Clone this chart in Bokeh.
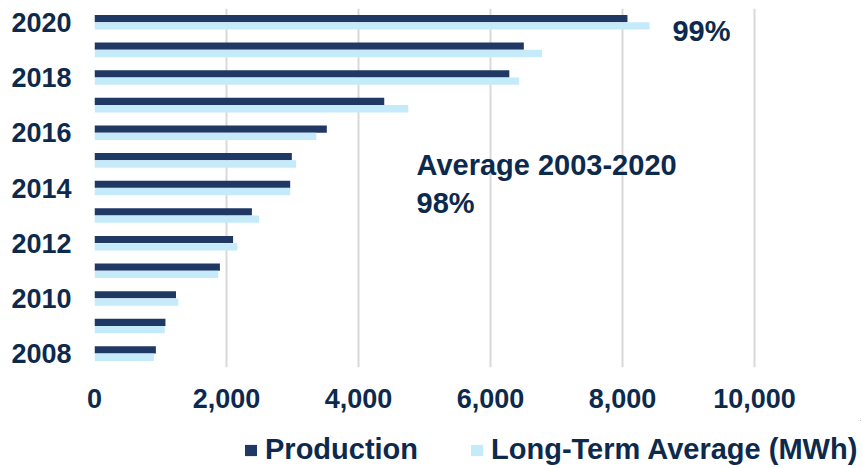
from bokeh.plotting import figure
from bokeh.layouts import column
from bokeh.models import (Range1d, ColumnDataSource, NumeralTickFormatter, FixedTicker,
                          Legend, LegendItem, Label)
from bokeh.embed import file_html
from bokeh.resources import INLINE

years = [2008, 2009, 2010, 2011, 2012, 2013, 2014, 2015, 2016, 2017, 2018, 2019, 2020]
production = [930, 1075, 1235, 1900, 2100, 2385, 2965, 2990, 3520, 4390, 6285, 6505, 8075]
long_term_avg = [900, 1065, 1270, 1875, 2165, 2495, 2965, 3055, 3360, 4755, 6435, 6780, 8410]
x_ticks = [0, 2000, 4000, 6000, 8000, 10000]
y_ticks = [2008, 2010, 2012, 2014, 2016, 2018, 2020]

NAVY = "#203864"
LIGHT = "#C5EBFB"
TEXT = "#0D2A4D"
FONT = "Liberation Sans"

p = figure(width=863, height=420, output_backend="svg", toolbar_location=None,
           x_range=Range1d(0, 11606), y_range=Range1d(2007.5, 2020.5),
           min_border_left=94, min_border_right=3, min_border_top=8, min_border_bottom=53)
p.outline_line_color = None

src = ColumnDataSource(dict(
    y_prod=[y + 0.135 for y in years],
    y_lta=[y - 0.13 for y in years],
    prod=production, lta=long_term_avg))

p.hbar(y="y_prod", right="prod", left=0, height=0.26, source=src,
       fill_color=NAVY, line_color=None)
p.hbar(y="y_lta", right="lta", left=0, height=0.265, source=src,
       fill_color=LIGHT, line_color=None)

# axes
p.xaxis.ticker = FixedTicker(ticks=x_ticks)
p.xaxis.formatter = NumeralTickFormatter(format="0,0")
p.yaxis.ticker = FixedTicker(ticks=y_ticks)
for ax in (p.xaxis[0], p.yaxis[0]):
    ax.axis_line_color = None
    ax.major_tick_line_color = None
    ax.minor_tick_line_color = None
    ax.major_tick_out = 0
    ax.major_tick_in = 0
    ax.major_label_text_font = FONT
    ax.major_label_text_font_style = "bold"
    ax.major_label_text_font_size = "27px"
    ax.major_label_text_color = TEXT
p.yaxis.major_label_standoff = 23
p.xaxis.major_label_standoff = 21

p.xgrid.ticker = FixedTicker(ticks=x_ticks)
p.xgrid.grid_line_color = "#D9D9D9"
p.xgrid.grid_line_width = 2
p.ygrid.grid_line_color = None

# annotations
common = dict(text_font=FONT, text_font_style="bold", text_font_size="29px",
              text_color=TEXT, text_baseline="middle")
p.add_layout(Label(x=8757, y=2019.70, text="99%", **common))
p.add_layout(Label(x=4879, y=2014.84, text="Average 2003-2020", **common))
p.add_layout(Label(x=4879, y=2013.44, text="98%", **common))

# legend strip (same series, drawn off-view so only the legend shows)
lg = figure(width=863, height=48, output_backend="svg", toolbar_location=None,
            x_range=Range1d(-30000, -20000), y_range=Range1d(-100, -99),
            min_border_left=94, min_border_right=3, min_border_top=0, min_border_bottom=0)
lg.outline_line_color = None
lg.axis.visible = False
lg.grid.visible = False
l1 = lg.hbar(y=years, right=production, left=0, height=0.26,
             fill_color=NAVY, line_color=None)
l2 = lg.hbar(y=years, right=long_term_avg, left=0, height=0.265,
             fill_color=LIGHT, line_color=None)
legend = Legend(items=[LegendItem(label="Production", renderers=[l1]),
                       LegendItem(label="Long-Term Average (MWh)", renderers=[l2])],
                orientation="horizontal", location=(149, 2),
                label_text_font=FONT, label_text_font_style="bold",
                label_text_font_size="29px", label_text_color=TEXT,
                glyph_width=15, glyph_height=14, label_standoff=7, spacing=51,
                padding=0, margin=0, border_line_color=None, background_fill_alpha=0)
lg.add_layout(legend)

open("out.html", "w").write(file_html(column(p, lg, spacing=0), INLINE))
